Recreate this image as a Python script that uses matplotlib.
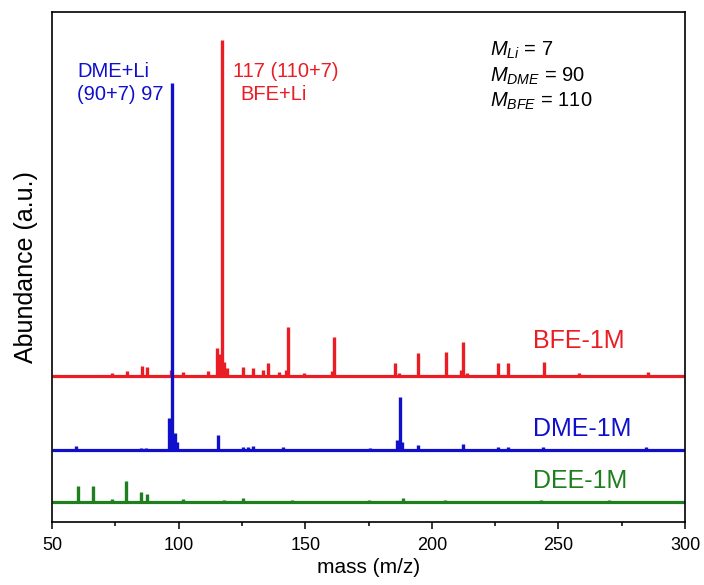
import matplotlib
matplotlib.use("Agg")
import matplotlib.pyplot as plt
from matplotlib.ticker import MultipleLocator

plt.rcParams["font.family"] = ["Liberation Sans", "DejaVu Sans"]
plt.rcParams["mathtext.fontset"] = "custom"
plt.rcParams["mathtext.rm"] = "Liberation Sans"
plt.rcParams["mathtext.it"] = "Liberation Sans:italic"

RED = "#ea1c24"
BLUE = "#1010cc"
GREEN = "#1f7f1f"

# ---- spectra (m/z, relative abundance in arbitrary units) ------------------
bfe_mz = [73.7, 79.6, 85.5, 87.5, 97.0, 101.7, 111.6, 115.0, 116.0, 117.1,
          118.0, 119.0, 125.4, 129.4, 133.3, 135.3, 139.7, 142.5, 143.2,
          149.5, 160.7, 161.4, 185.5, 187.0, 194.5, 205.6, 211.5, 212.3,
          214.0, 226.0, 230.0, 244.3, 258.0, 285.4]
bfe_ab = [3, 5, 10, 9, 6, 4, 5, 28, 22, 336,
          14, 8, 9, 8, 6, 13, 4, 6, 49,
          3, 5, 39, 13, 3, 23, 24, 6, 34,
          3, 13, 13, 14, 3, 4]

dme_mz = [59.5, 85.0, 87.0, 96.2, 97.3, 98.6, 99.2, 115.6, 125.4, 127.4,
          129.4, 141.2, 175.6, 186.3, 187.4, 188.3, 194.5, 212.3, 226.0,
          230.0, 244.0, 284.6]
dme_ab = [4, 2, 2, 32, 367, 17, 8, 15, 3, 3,
          4, 3, 2, 10, 53, 8, 5, 6, 3,
          3, 3, 3]

dee_mz = [60.3, 66.2, 73.7, 79.2, 85.2, 87.5, 101.7, 118.0, 125.4, 144.8,
          175.0, 188.5, 205.0, 243.0, 270.0]
dee_ab = [16, 16, 3, 21, 10, 8, 3, 2, 4, 2,
          2, 4, 2, 2, 2]

# vertical offsets of the stacked traces
OFFSETS = {"BFE-1M": 146, "DME-1M": 72, "DEE-1M": 20}

fig = plt.figure(figsize=(7.04, 5.85), dpi=100)
ax = fig.add_axes([0.0739, 0.1077, 0.8992, 0.8718])

traces = [("BFE-1M", bfe_mz, bfe_ab, RED),
          ("DME-1M", dme_mz, dme_ab, BLUE),
          ("DEE-1M", dee_mz, dee_ab, GREEN)]

for name, mz, ab, col in traces:
    base = OFFSETS[name]
    ax.hlines(base, 50, 300, color=col, lw=2.3, zorder=2)
    ax.vlines(mz, base, [base + a for a in ab], color=col, lw=2.4, zorder=3)

# trace labels
ax.text(240, 181, "BFE-1M", color=RED, fontsize=18, va="center", ha="left")
ax.text(240, 93, "DME-1M", color=BLUE, fontsize=18, va="center", ha="left")
ax.text(240, 41, "DEE-1M", color=GREEN, fontsize=18, va="center", ha="left")

# peak annotations
ax.text(60.0, 450, "DME+Li", color=BLUE, fontsize=14.5, va="center", ha="left")
ax.text(94.0, 427, "(90+7) 97", color=BLUE, fontsize=14.5, va="center", ha="right")
ax.text(121.5, 450, "117 (110+7)", color=RED, fontsize=14.5, va="center", ha="left")
ax.text(124.3, 427, "BFE+Li", color=RED, fontsize=14.5, va="center", ha="left")

# molar masses
ax.text(223, 472, r"$\it{M}_{\it{Li}}$ = 7", fontsize=14.5, va="center")
ax.text(223, 446, r"$\it{M}_{\it{DME}}$ = 90", fontsize=14.5, va="center")
ax.text(223, 421, r"$\it{M}_{\it{BFE}}$ = 110", fontsize=14.5, va="center")

ax.set_xlim(50, 300)
ax.set_ylim(0, 510)
ax.xaxis.set_major_locator(MultipleLocator(50))
ax.xaxis.set_minor_locator(MultipleLocator(25))
ax.tick_params(axis="x", which="major", direction="out", length=5, width=1.1,
               labelsize=13, pad=6)
ax.tick_params(axis="x", which="minor", direction="out", length=3, width=1.1)
ax.set_yticks([])
for s in ax.spines.values():
    s.set_linewidth(1.2)

ax.set_xlabel("mass (m/z)", fontsize=15, labelpad=3)
ax.set_ylabel("Abundance (a.u.)", fontsize=18, labelpad=10)

fig.savefig("out.png", dpi=100, facecolor="white")
